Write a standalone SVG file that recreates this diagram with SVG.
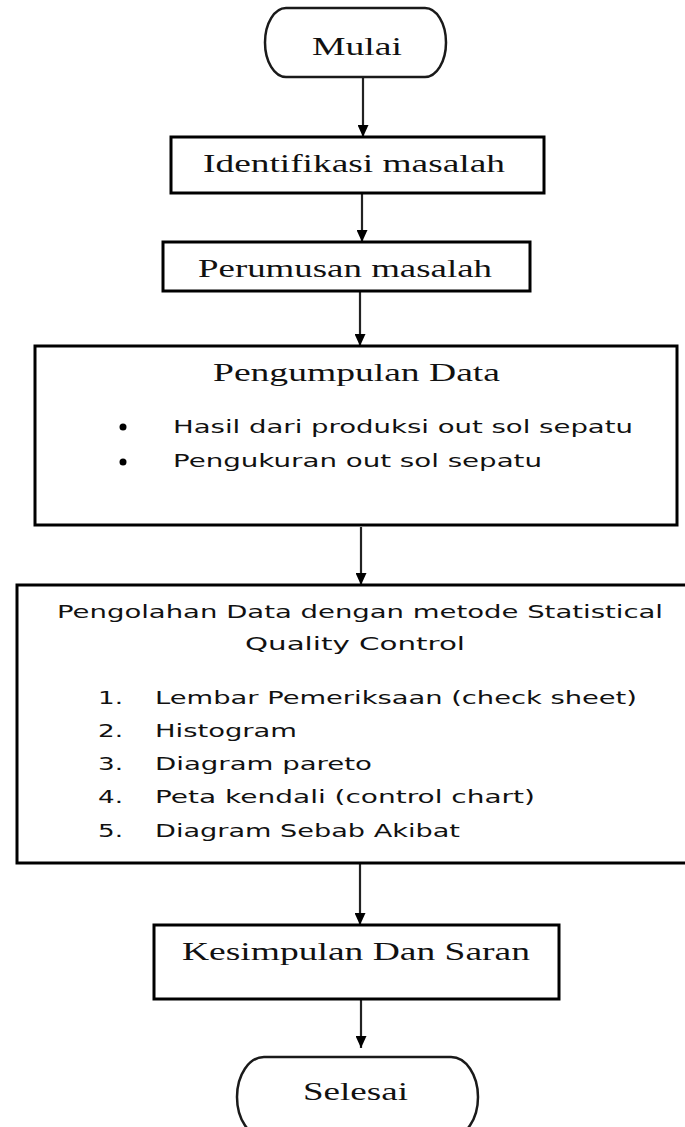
<svg xmlns="http://www.w3.org/2000/svg" width="685" height="1127" viewBox="0 0 685 1127">
  <defs>
    <marker id="arrow" markerUnits="userSpaceOnUse" markerWidth="12" markerHeight="11" refX="12" refY="5.5" orient="auto">
      <path d="M0,0 L12,5.5 L0,11 z" fill="#000"/>
    </marker>
    <style>
      .box { fill: #fff; stroke: #000; stroke-width: 3; }
      .term { fill: #fff; stroke: #1a1a1a; stroke-width: 2.5; }
      .serif { font-family: "Liberation Serif", "Times New Roman", serif; font-size: 26px; fill: #111; }
      .sans { font-family: "DejaVu Sans", "Liberation Sans", sans-serif; font-size: 18px; fill: #111; }
      .conn { stroke: #222; stroke-width: 2.2; fill: none; marker-end: url(#arrow); }
    </style>
  </defs>

  <!-- connectors -->
  <g id="connectors">
    <line class="conn" x1="363" y1="78" x2="363" y2="137"/>
    <line class="conn" x1="362" y1="194" x2="362" y2="242"/>
    <line class="conn" x1="360" y1="292" x2="360" y2="346"/>
    <line class="conn" x1="361" y1="527" x2="361" y2="585"/>
    <line class="conn" x1="360" y1="864" x2="360" y2="925"/>
    <line class="conn" x1="361" y1="1000" x2="361" y2="1048"/>
  </g>

  <!-- start terminal -->
  <g id="mulai">
    <rect class="term" x="265" y="8" width="181" height="69" rx="21" ry="34.5"/>
    <text class="serif" x="312" y="55" textLength="90" lengthAdjust="spacingAndGlyphs">Mulai</text>
  </g>

  <g id="identifikasi">
    <rect class="box" x="171" y="137" width="373" height="56"/>
    <text class="serif" x="203" y="172" textLength="302" lengthAdjust="spacingAndGlyphs">Identifikasi masalah</text>
  </g>

  <g id="perumusan">
    <rect class="box" x="163" y="242" width="367" height="49"/>
    <text class="serif" x="198" y="277" textLength="294" lengthAdjust="spacingAndGlyphs">Perumusan masalah</text>
  </g>

  <g id="pengumpulan">
    <rect class="box" x="35" y="346" width="642" height="179"/>
    <text class="serif" x="213" y="381" textLength="287" lengthAdjust="spacingAndGlyphs">Pengumpulan Data</text>
    <circle cx="123" cy="427" r="3.5" fill="#000"/>
    <circle cx="123" cy="462" r="3.5" fill="#000"/>
    <text class="sans" x="173" y="433" textLength="460" lengthAdjust="spacingAndGlyphs">Hasil dari produksi out sol sepatu</text>
    <text class="sans" x="173" y="467" textLength="369" lengthAdjust="spacingAndGlyphs">Pengukuran out sol sepatu</text>
  </g>

  <g id="pengolahan">
    <rect class="box" x="17" y="585" width="672" height="278"/>
    <text class="sans" x="57" y="618" textLength="606" lengthAdjust="spacingAndGlyphs">Pengolahan Data dengan metode Statistical</text>
    <text class="sans" x="245" y="650" textLength="220" lengthAdjust="spacingAndGlyphs">Quality Control</text>
    <text class="sans" x="98" y="704" textLength="25" lengthAdjust="spacingAndGlyphs">1.</text>
    <text class="sans" x="155" y="704" textLength="482" lengthAdjust="spacingAndGlyphs">Lembar Pemeriksaan (check sheet)</text>
    <text class="sans" x="98" y="737" textLength="25" lengthAdjust="spacingAndGlyphs">2.</text>
    <text class="sans" x="155" y="737" textLength="142" lengthAdjust="spacingAndGlyphs">Histogram</text>
    <text class="sans" x="98" y="770" textLength="25" lengthAdjust="spacingAndGlyphs">3.</text>
    <text class="sans" x="155" y="770" textLength="217" lengthAdjust="spacingAndGlyphs">Diagram pareto</text>
    <text class="sans" x="98" y="803" textLength="25" lengthAdjust="spacingAndGlyphs">4.</text>
    <text class="sans" x="155" y="803" textLength="380" lengthAdjust="spacingAndGlyphs">Peta kendali (control chart)</text>
    <text class="sans" x="98" y="837" textLength="25" lengthAdjust="spacingAndGlyphs">5.</text>
    <text class="sans" x="155" y="837" textLength="305" lengthAdjust="spacingAndGlyphs">Diagram Sebab Akibat</text>
  </g>

  <g id="kesimpulan">
    <rect class="box" x="154" y="925" width="405" height="74"/>
    <text class="serif" x="182" y="960" textLength="348" lengthAdjust="spacingAndGlyphs">Kesimpulan Dan Saran</text>
  </g>

  <!-- end terminal, runs past the lower edge -->
  <g id="selesai">
    <rect class="term" x="237" y="1057" width="241" height="80" rx="27" ry="40"/>
    <text class="serif" x="303" y="1100" textLength="105" lengthAdjust="spacingAndGlyphs">Selesai</text>
  </g>
</svg>
